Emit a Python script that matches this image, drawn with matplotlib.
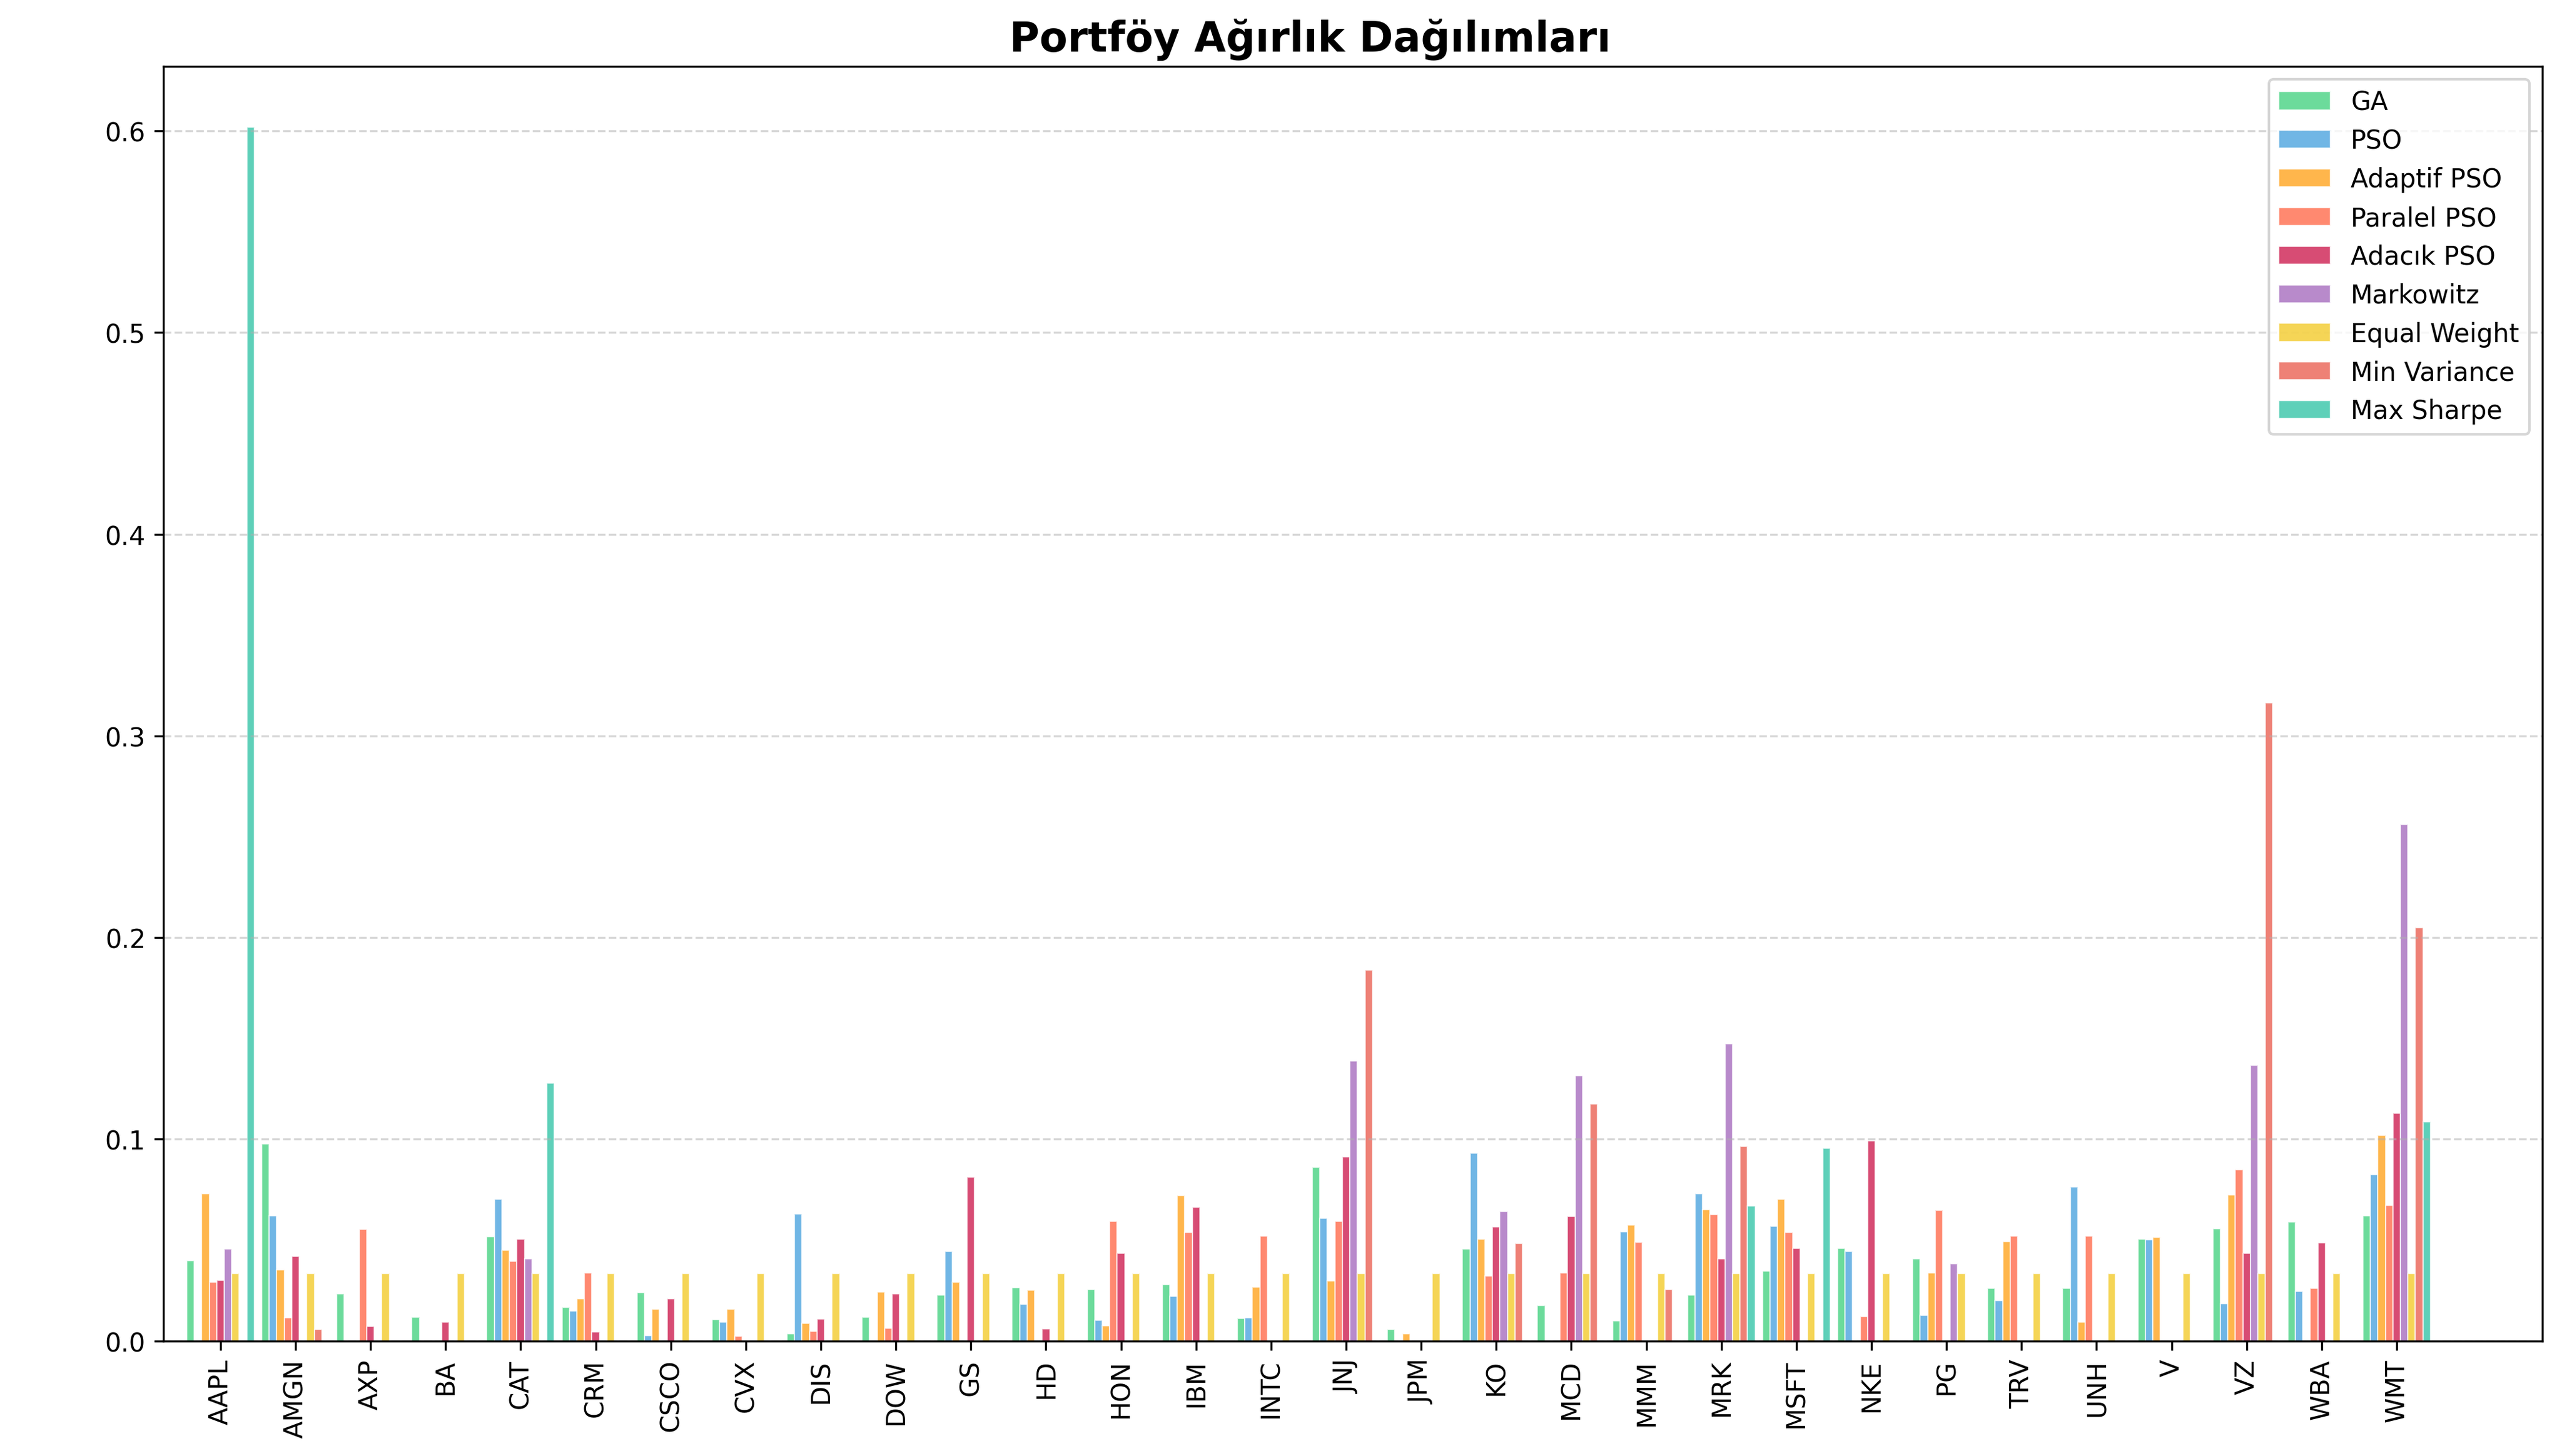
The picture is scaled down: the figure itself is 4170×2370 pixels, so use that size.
import numpy as np
import matplotlib.pyplot as plt

# Tickers and weights per method
tickers = ["AAPL", "AMGN", "AXP", "BA", "CAT", "CRM", "CSCO", "CVX", "DIS", "DOW",
           "GS", "HD", "HON", "IBM", "INTC", "JNJ", "JPM", "KO", "MCD", "MMM",
           "MRK", "MSFT", "NKE", "PG", "TRV", "UNH", "V", "VZ", "WBA", "WMT"]

ga = [0.0397, 0.0977, 0.0234, 0.0119, 0.0516, 0.0168, 0.0241, 0.0107, 0.0036, 0.0119,
      0.0229, 0.0265, 0.0256, 0.0280, 0.0112, 0.0860, 0.0058, 0.0455, 0.0177, 0.0100,
      0.0229, 0.0345, 0.0460, 0.0406, 0.0262, 0.0262, 0.0504, 0.0558, 0.0589, 0.0619]
pso = [0.0, 0.0619, 0.0, 0.0, 0.0702, 0.0149, 0.0027, 0.0092, 0.0631, 0.0,
       0.0445, 0.0183, 0.0104, 0.0222, 0.0116, 0.0607, 0.0, 0.0931, 0.0, 0.0540,
       0.0730, 0.0570, 0.0443, 0.0128, 0.0201, 0.0763, 0.0501, 0.0185, 0.0246, 0.0824]
adaptif_pso = [0.0730, 0.0351, 0.0, 0.0, 0.0451, 0.0210, 0.0158, 0.0158, 0.0088, 0.0244,
               0.0290, 0.0253, 0.0076, 0.0720, 0.0268, 0.0299, 0.0036, 0.0504, 0.0, 0.0574,
               0.0650, 0.0704, 0.0, 0.0338, 0.0494, 0.0094, 0.0513, 0.0723, 0.0, 0.1020]
paralel_pso = [0.0292, 0.0116, 0.0555, 0.0, 0.0394, 0.0336, 0.0, 0.0024, 0.0048, 0.0063,
               0.0, 0.0, 0.0592, 0.0537, 0.0519, 0.0592, 0.0, 0.0321, 0.0336, 0.0489,
               0.0628, 0.0537, 0.0122, 0.0647, 0.0521, 0.0519, 0.0, 0.0848, 0.0260, 0.0672]
adacik_pso = [0.0302, 0.0418, 0.0073, 0.0094, 0.0506, 0.0046, 0.0210, 0.0, 0.0109, 0.0234,
              0.0811, 0.0061, 0.0436, 0.0662, 0.0, 0.0913, 0.0002, 0.0565, 0.0616, 0.0,
              0.0406, 0.0460, 0.0993, 0.0, 0.0, 0.0, 0.0, 0.0436, 0.0485, 0.1130]
markowitz = [0.0455, 0.0, 0.0, 0.0, 0.0406, 0.0, 0.0, 0.0, 0.0, 0.0,
             0.0, 0.0, 0.0, 0.0, 0.0, 0.1389, 0.0, 0.0641, 0.1316, 0.0,
             0.1474, 0.0, 0.0, 0.0382, 0.0, 0.0, 0.0, 0.1367, 0.0, 0.2560]
equal_weight = [1 / 30] * 30
min_variance = [0.0, 0.0058, 0.0, 0.0, 0.0, 0.0, 0.0, 0.0, 0.0, 0.0,
                0.0, 0.0, 0.0, 0.0, 0.0, 0.1839, 0.0, 0.0482, 0.1176, 0.0256,
                0.0964, 0.0, 0.0, 0.0, 0.0, 0.0, 0.0, 0.3164, 0.0, 0.2048]
max_sharpe = [0.6019, 0.0, 0.0, 0.0, 0.1280, 0.0, 0.0, 0.0, 0.0, 0.0,
              0.0, 0.0, 0.0, 0.0, 0.0, 0.0, 0.0, 0.0, 0.0, 0.0,
              0.0668, 0.0955, 0.0, 0.0, 0.0, 0.0, 0.0, 0.0, 0.0, 0.1086]

method_names = ["GA", "PSO", "Adaptif PSO", "Paralel PSO", "Adacık PSO",
                "Markowitz", "Equal Weight", "Min Variance", "Max Sharpe"]
method_weights = [ga, pso, adaptif_pso, paralel_pso, adacik_pso,
                  markowitz, equal_weight, min_variance, max_sharpe]
colors = ["#2ecc71", "#3498db", "#ff9800", "#ff5733", "#c70039",
          "#9b59b6", "#f1c40f", "#e74c3c", "#1abc9c"]

x = np.arange(len(tickers))
width = 0.1

fig, ax = plt.subplots(figsize=(13.9, 7.9033), dpi=300)

for i in range(len(method_names)):
    offset = (i - 4) * width
    ax.bar(x + offset, method_weights[i], width, label=method_names[i],
           color=colors[i], alpha=0.7, edgecolor="white", linewidth=0.5)

ax.set_xticks(x)
ax.set_xticklabels(tickers, rotation=90)
ax.set_xlim(-0.76, 30.94)
# title sits a bit left of the axes centre in the original
ax.set_title("Portföy Ağırlık Dağılımları", fontsize=16, fontweight="bold", x=0.482)
ax.grid(axis="y", linestyle="--", alpha=0.5)
ax.legend(loc="upper right")

plt.subplots_adjust(left=0.0638, right=0.9923, bottom=0.079, top=0.954)
plt.savefig("out.png", dpi=300)
